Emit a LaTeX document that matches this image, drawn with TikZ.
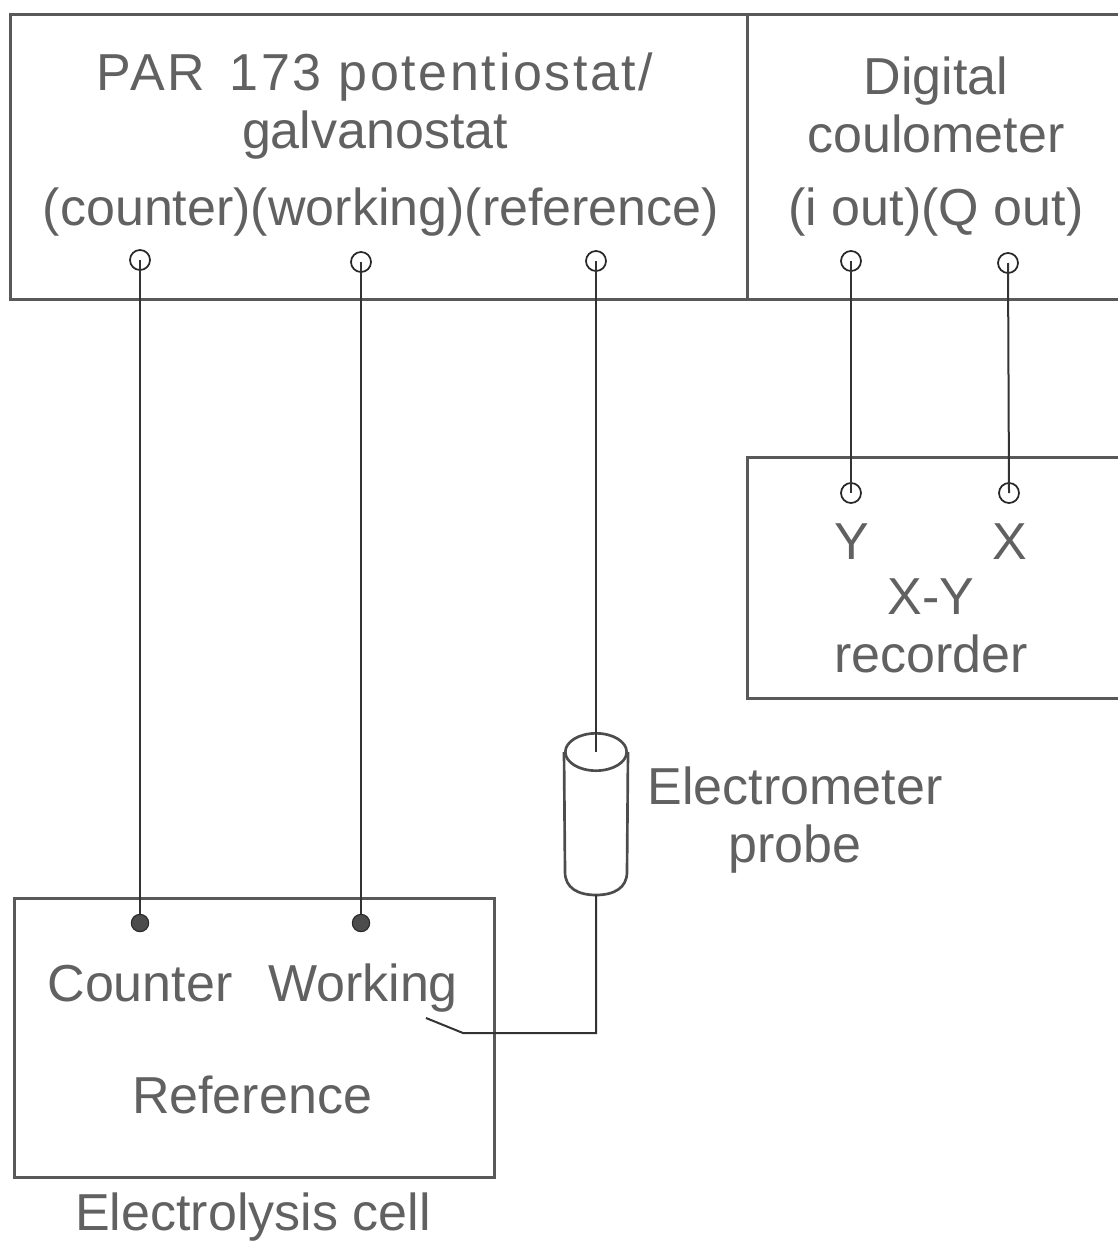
\documentclass[tikz,border=0pt]{standalone}
\usepackage{fontspec}
\setmainfont{Liberation Sans}
\usetikzlibrary{calc, positioning, shapes.geometric}
\tikzset{
  unitbox/.style={draw=black!65, line width=2.2pt, inner sep=0pt, anchor=north west},
  jack/.style={circle, draw=black!85, fill=white, line width=1.3pt, minimum size=15pt, inner sep=0pt},
  post/.style={circle, draw=black!85, fill=black!70, line width=0.8pt, minimum size=13pt, inner sep=0pt},
  lbl/.style={font=\fontsize{39}{43}\selectfont, align=center, text=black!62, inner sep=0pt},
  one/.style={lbl, anchor=base},
  wire/.style={draw=black!80, line width=1.5pt}
}
\begin{document}
\begin{tikzpicture}[x=0.75pt, y=-0.75pt]
\useasboundingbox (0,0) rectangle (1117,1241);
% instruments
\node[unitbox, minimum width=553pt, minimum height=214pt] (pot) at (9,13) {};
\node[unitbox, minimum width=282pt, minimum height=214pt] (coul) at (746,13) {};
\node[unitbox, minimum width=282pt, minimum height=181pt] (rec) at (746,456) {};
\node[unitbox, minimum width=360pt, minimum height=209pt] (cell) at (13,897) {};

\node[lbl] (potname) at (375,106) {\addfontfeature{LetterSpace=5}PAR\hspace{6pt} 173 potentiostat/\\galvanostat};
\node[one] (potports) at (381,226) {(counter)(working)(reference)};
\node[lbl] (coulname) at (936,105) {Digital\\coulometer};
\node[one] (coulports) at (936,226) {(i out)(Q out)};
\node[one] (yin) at (852,559) {Y};
\node[one] (xin) at (1010,559) {X};
\node[lbl] (recname) at (931,626) {X-Y\\recorder};
\node[lbl] (probename) at (795,820) {Electrometer\\probe};
\node[one] (counter) at (140,1001) {Counter};
\node[one] (working) at (363,1001) {Working};
\node[one] (reference) at (252,1113) {Reference};
\node[one] (cellname) at (253,1230) {Electrolysis cell};

% terminals
\node[jack] (a1) at (140,260) {};
\node[jack] (a2) at (361,262) {};
\node[jack] (a3) at (596,261) {};
\node[jack] (b1) at (851,261) {};
\node[jack] (b2) at (1008,263) {};
\node[jack] (c1) at (851,493) {};
\node[jack] (c2) at (1009,493) {};
\node[post] (d1) at (140,923) {};
\node[post] (d2) at (361,923) {};

% probe
\node[ellipse, draw=black!70, line width=2pt, minimum width=46pt, minimum height=28pt, inner sep=0pt] (top) at (596,752) {};
\coordinate (bot) at (596,895);
\coordinate (bend) at (596,1033);
\coordinate (knee) at (463,1033);
\coordinate (tip) at (426,1018);
\draw[draw=black!70, line width=2pt] (top.west) -- (565,872) .. controls (565,888) and (578,895) .. (bot)
  .. controls (614,895) and (627,888) .. (627,872) -- (top.east);

% wires
\draw[wire] (a1.center) -- (d1);
\draw[wire] (a2.center) -- (d2);
\draw[wire] (a3.center) -- (top.center);
\draw[wire] (b1.center) -- (c1.center);
\draw[wire] (b2.center) -- (c2.center);
\draw[wire] (bot) -- (bend) -- (knee) -- (tip);
\end{tikzpicture}
\end{document}
